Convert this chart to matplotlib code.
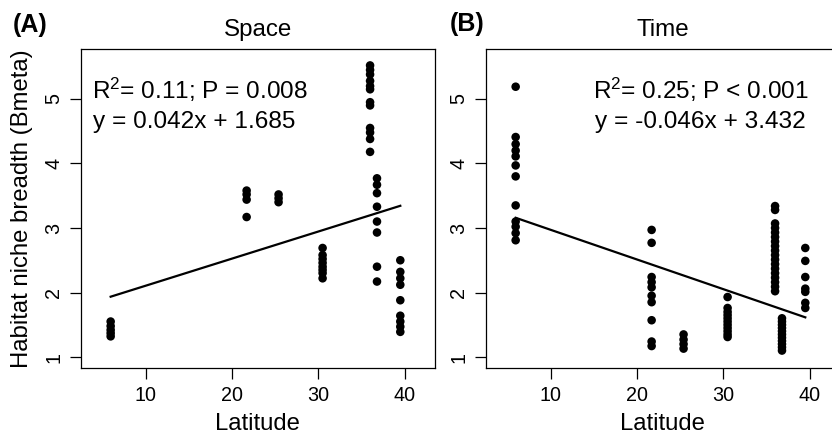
import numpy as np
import matplotlib
matplotlib.use("Agg")
import matplotlib.pyplot as plt

plt.rcParams['font.family'] = ['Liberation Sans', 'DejaVu Sans']
plt.rcParams['mathtext.fontset'] = 'custom'
plt.rcParams['mathtext.rm'] = 'Liberation Sans'
plt.rcParams['mathtext.default'] = 'regular'

# ---- data ----
site_lat = [5.95, 21.7, 25.4, 30.5, 36.0, 36.8, 39.5]

space_vals = [
    [1.55, 1.48, 1.42, 1.37, 1.32],
    [3.58, 3.52, 3.44, 3.17],
    [3.52, 3.46, 3.40],
    [2.69, 2.58, 2.52, 2.46, 2.40, 2.35, 2.30, 2.22],
    [5.52, 5.45, 5.38, 5.28, 5.20, 5.15, 4.95, 4.90, 4.55, 4.48, 4.38, 4.18],
    [3.77, 3.67, 3.54, 3.33, 3.10, 2.93, 2.40, 2.17],
    [2.50, 2.32, 2.22, 2.12, 1.88, 1.64, 1.55, 1.47, 1.39],
]
time_vals = [
    [5.19, 4.41, 4.30, 4.20, 4.11, 3.97, 3.80, 3.35, 3.10, 3.02, 2.92, 2.81],
    [2.97, 2.77, 2.24, 2.16, 2.08, 1.95, 1.85, 1.57, 1.24, 1.17],
    [1.35, 1.27, 1.20, 1.13],
    [1.93, 1.76, 1.70, 1.65, 1.60, 1.55, 1.50, 1.45, 1.40, 1.35, 1.31],
    [3.34, 3.28, 3.07, 3.00, 2.93, 2.86, 2.79, 2.72, 2.65, 2.58, 2.51, 2.44,
     2.37, 2.30, 2.23, 2.16, 2.09, 2.02],
    [1.60, 1.55, 1.50, 1.45, 1.40, 1.35, 1.30, 1.25, 1.20, 1.15, 1.10],
    [2.69, 2.49, 2.24, 2.06, 2.01, 1.84, 1.76],
]

space_fit = (0.042, 1.685)
time_fit = (-0.046, 3.432)
space_stats = ['R$^{2}$= 0.11; P = 0.008', 'y = 0.042x + 1.685']
time_stats = ['R$^{2}$= 0.25; P < 0.001', 'y = -0.046x + 3.432']

titles = ['Space', 'Time']
panel_tags = ['(A)', '(B)']
x_ticks = [10, 20, 30, 40]
y_ticks = [1, 2, 3, 4, 5]


def flatten(lats, groups):
    xs, ys = [], []
    for la, g in zip(lats, groups):
        xs += [la] * len(g)
        ys += g
    return np.array(xs), np.array(ys)


fig = plt.figure(figsize=(8.32, 4.37), dpi=100)
W, H = 832, 437
ax_w = 354.3 / W
ax_h = 319.0 / H
bottom = (H - 368.3) / H
axA = fig.add_axes([80.7 / W, bottom, ax_w, ax_h])
axB = fig.add_axes([485.7 / W, bottom, ax_w, ax_h])

specs = [
    (axA, space_vals, space_fit, space_stats, 3.82),
    (axB, time_vals, time_fit, time_stats, 14.87),
]

for i, (ax, vals, fit, stats, tx) in enumerate(specs):
    x, y = flatten(site_lat, vals)
    ax.scatter(x, y, s=38, color='black', edgecolors='none', zorder=3)
    xl = np.array([x.min(), x.max()])
    ax.plot(xl, fit[0] * xl + fit[1], color='black', lw=1.6, zorder=2)
    ax.set_xlim(2.48, 43.52)
    ax.set_ylim(0.825, 5.77)
    ax.set_xticks(x_ticks)
    ax.set_yticks(y_ticks)
    ax.tick_params(axis='both', direction='out', length=8, width=0.9,
                   labelsize=14.2, pad=4.5, color='black')
    ax.tick_params(axis='y', labelrotation=90)
    for lab in ax.get_yticklabels():
        lab.set_va('center')
    for sp in ax.spines.values():
        sp.set_linewidth(0.9)
        sp.set_color('black')
    ax.set_xlabel('Latitude', fontsize=17.2)
    ax.xaxis.set_label_coords(0.5, -0.141)
    ax.text(0.5, 1.0426, titles[i], transform=ax.transAxes, ha='center',
            va='baseline', fontsize=17.4)
    ax.text(tx, 5.0, stats[0], ha='left', va='baseline', fontsize=17.6)
    ax.text(tx + (0.1 if i == 0 else 0.27), 4.545, stats[1], ha='left',
            va='baseline', fontsize=17.6)

axA.set_ylabel('Habitat niche breadth (Bmeta)', fontsize=17.2)
axA.yaxis.set_label_coords(-0.135, 0.5)

fig.text(13 / W, (H - 31.7) / H, panel_tags[0], fontsize=18, fontweight='bold',
         ha='left', va='baseline')
fig.text(450 / W, (H - 31.0) / H, panel_tags[1], fontsize=18, fontweight='bold',
         ha='left', va='baseline')

fig.savefig('out.png', dpi=100)
